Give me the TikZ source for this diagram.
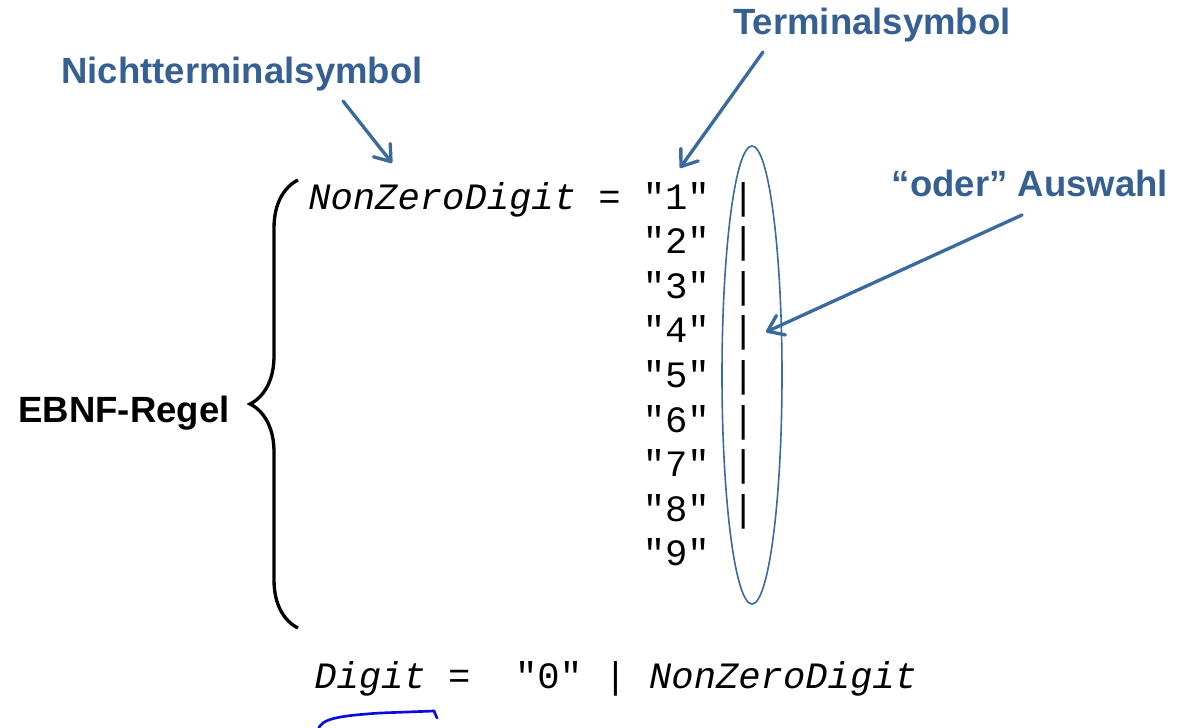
\documentclass[tikz,border=0pt]{standalone}
\usepackage{fontspec}
\setmainfont{Liberation Sans}
\setmonofont{Liberation Mono}
\usetikzlibrary{arrows.meta,decorations.pathreplacing}

\definecolor{labelblue}{RGB}{55,96,146}
\definecolor{arrowblue}{RGB}{58,106,158}
\definecolor{penblue}{RGB}{10,10,225}

\tikzset{
	annot/.style={font=\fontsize{27.4}{32}\selectfont\bfseries, text=labelblue, inner sep=0pt, anchor=base},
	code/.style={font=\ttfamily\fontsize{27.9}{33}\selectfont, inner sep=0pt, anchor=base west},
	pointer/.style={draw=arrowblue, line width=2.5pt, line cap=round, -{Straight Barb[length=11pt,width=16pt,round]}}
}

\begin{document}
\begin{tikzpicture}[x=0.75pt,y=-0.75pt]
		\useasboundingbox (0,0) rectangle (1179,728);

		% labels
		\node [annot] (NonTerminal) at (242,83) {Nichtterminalsymbol};
		\node [annot] (Terminal) at (872,35) {Terminalsymbol};
		\node [annot] (Choice) at (1030,196) {“oder” Auswahl};
		\node [annot, text=black] (Rule) at (124,422) {EBNF-Regel};

		% the rule
		\node [code] (Lhs) at (308,209) {{\itshape NonZeroDigit} =};
		\foreach \d in {1,...,9}
			\node [code] (Alt\d) at (642.5,{209+(\d-1)*44.6}) {"\d"\ifnum\d<9\ |\fi};

		\node [code] (DigitRule) at (314,688) {{\itshape Digit} =\ \ "0" | {\itshape NonZeroDigit}};

		% brace and ellipse
		\draw [line width=2.5pt, decorate, decoration={brace, amplitude=36pt}] (298,628) -- (298,180);
		\draw [arrowblue, line width=1.2pt] (752,375) ellipse [x radius=30, y radius=229];

		% pointers
		\coordinate (NonTerminalTail) at (343,101);
		\coordinate (NonTerminalHead) at (392,163);
		\coordinate (TerminalTail) at (763,52);
		\coordinate (TerminalHead) at (680,168);
		\coordinate (ChoiceTail) at (1022,215);
		\coordinate (ChoiceHead) at (766,332);

		\draw [pointer] (NonTerminalTail) -- (NonTerminalHead);
		\draw [pointer] (TerminalTail) -- (TerminalHead);
		\draw [pointer] (ChoiceTail) -- (ChoiceHead);

		% pen stroke
		\draw [penblue, line width=2pt, line cap=round] (318,730) .. controls (321,719) and (336,716) .. (380,713) -- (434,711) -- (437,718);
	\end{tikzpicture}
\end{document}
